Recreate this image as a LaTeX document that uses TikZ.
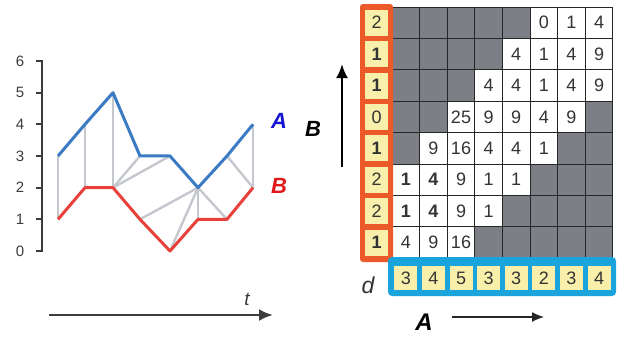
\documentclass[tikz,border=0pt]{standalone}
\usepackage{fontspec}
\setmainfont{Liberation Sans}
\usetikzlibrary{arrows.meta}
\definecolor{lineA}{HTML}{3B7BC4}
\definecolor{lineB}{HTML}{E8413C}
\definecolor{warp}{HTML}{C4C8CE}
\definecolor{cellgray}{HTML}{7C7F85}
\definecolor{cellyellow}{HTML}{F8F0AA}
\definecolor{boxorange}{HTML}{EC5A2A}
\definecolor{boxblue}{HTML}{1BA3DC}
\definecolor{axisgray}{HTML}{3C3C3C}
\definecolor{labblue}{HTML}{1414D2}
\definecolor{labred}{HTML}{E01818}
\begin{document}
\begin{tikzpicture}[x=1pt,y=-1pt,
  ticklab/.style={font=\fontsize{15}{15}\selectfont, text=axisgray, anchor=center},
  biglab/.style={font=\fontsize{22}{22}\selectfont\bfseries\itshape, anchor=center},
  digit/.style={font=\fontsize{18}{18}\selectfont, text=black!80, anchor=center, inner sep=0pt},
  ycell/.style={fill=cellyellow, draw=none, minimum width=23pt, minimum height=#1, inner sep=0pt, font=\fontsize{18}{18}\selectfont, text=black!80},
  warpline/.style={warp, line width=2.4pt},
  bigarrow/.style={-{Latex[length=14pt,width=12pt]}, line width=2.6pt, axisgray}
]
\useasboundingbox (0,0) rectangle (623,341);

% ---------- left chart ----------
\draw[axisgray, line width=2pt] (42,60) -- (42,252);
\foreach \v in {0,...,6} {
  \draw[axisgray, line width=2pt] (36,{251-31.67*\v}) -- (43,{251-31.67*\v});
  \node[ticklab] (tick\v) at (20,{251-31.67*\v}) {\v};
}
\foreach \i/\x/\a/\b in {1/58/3/1, 2/85/4/2, 3/113/5/2, 4/140/3/1, 5/170/3/0, 6/198/2/1, 7/227/3/1, 8/253/4/2} {
  \coordinate (a\i) at (\x,{251-31.67*\a});
  \coordinate (b\i) at (\x,{251-31.67*\b});
}
\foreach \p/\q in {a1/b1, a2/b2, a3/b3, a4/b3, a5/b3, a6/b4, a6/b5, a6/b6, a6/b7, a7/b8, a8/b8}
  \draw[warpline] (\p) -- (\q);
\draw[lineA, line width=3pt, line join=round] (a1) -- (a2) -- (a3) -- (a4) -- (a5) -- (a6) -- (a7) -- (a8);
\draw[lineB, line width=3pt, line join=round] (b1) -- (b2) -- (b3) -- (b4) -- (b5) -- (b6) -- (b7) -- (b8);
\node[biglab, text=labblue] (labA) at (279,121) {A};
\node[biglab, text=labred] (labB) at (279,186) {B};

\coordinate (tstart) at (49,315);
\coordinate (tend) at (273,315);
\draw[bigarrow] (tstart) -- (tend);
\node[font=\fontsize{19}{19}\selectfont\itshape, text=axisgray] (tlab) at (247,299) {t};

% ---------- matrix ----------
% values: -1 gray, >=100 bold
\foreach \r/\vals in {
  1/{-1,-1,-1,-1,-1,0,1,4},
  2/{-1,-1,-1,-1,4,1,4,9},
  3/{-1,-1,-1,4,4,1,4,9},
  4/{-1,-1,25,9,9,4,9,-1},
  5/{-1,9,16,4,4,1,-1,-1},
  6/{101,104,9,1,1,-1,-1,-1},
  7/{101,104,9,1,-1,-1,-1,-1},
  8/{4,9,16,-1,-1,-1,-1,-1}} {
  \foreach \v [count=\c] in \vals {
    \ifnum\v<0
      \fill[cellgray] ({392+27.6*(\c-1)},{7+31.4*(\r-1)}) rectangle ++(27.6,31.4);
    \else
      \ifnum\v>99
        \node[digit, font=\fontsize{18}{18}\selectfont\bfseries] (m-\r-\c) at ({392+27.6*(\c-0.5)},{7+31.4*(\r-0.5)}) {\the\numexpr\v-100\relax};
      \else
        \node[digit] (m-\r-\c) at ({392+27.6*(\c-0.5)},{7+31.4*(\r-0.5)}) {\v};
      \fi
    \fi
  }
}
\foreach \c in {0,...,8}
  \draw[black!85, line width=1pt] ({392+27.6*\c},7) -- ({392+27.6*\c},258.2);
\foreach \r in {0,...,8}
  \draw[black!85, line width=1pt] (392,{7+31.4*\r}) -- (612.8,{7+31.4*\r});

% orange column (B)
\fill[boxorange, rounded corners=3pt] (360,4) rectangle (393,262);
\foreach \v [count=\r] in {2,1,1,0,1,2,2,1} {
  \ifnum\v=1
    \node[ycell=26pt, font=\fontsize{18}{18}\selectfont\bfseries] (o\r) at (376.5,{7+31.4*(\r-0.5)}) {\v};
  \else
    \node[ycell=26pt] (o\r) at (376.5,{7+31.4*(\r-0.5)}) {\v};
  \fi
}

% blue row (A)
\fill[boxblue, rounded corners=4pt] (388,257) rectangle (616,296);
\foreach \v [count=\c] in {3,4,5,3,3,2,3,4}
  \node[ycell=24pt] (bl\c) at ({392+27.6*(\c-0.5)},278) {\v};

\node[font=\fontsize{23}{23}\selectfont\itshape, text=black!80] (dlab) at (368,285) {d};

% axis arrows of the matrix
\coordinate (vbot) at (342,167);
\coordinate (vtop) at (342,64);
\draw[bigarrow, black] (vbot) -- (vtop);
\node[biglab, text=black] (labB2) at (313,129) {B};

\coordinate (hstart) at (452,317);
\coordinate (hend) at (544,317);
\draw[-{Latex[length=12pt,width=10pt]}, line width=1.4pt, black!85] (hstart) -- (hend);
\node[biglab, font=\fontsize{24}{24}\selectfont\bfseries\itshape, text=black] (labA2) at (424,322) {A};
\end{tikzpicture}
\end{document}
